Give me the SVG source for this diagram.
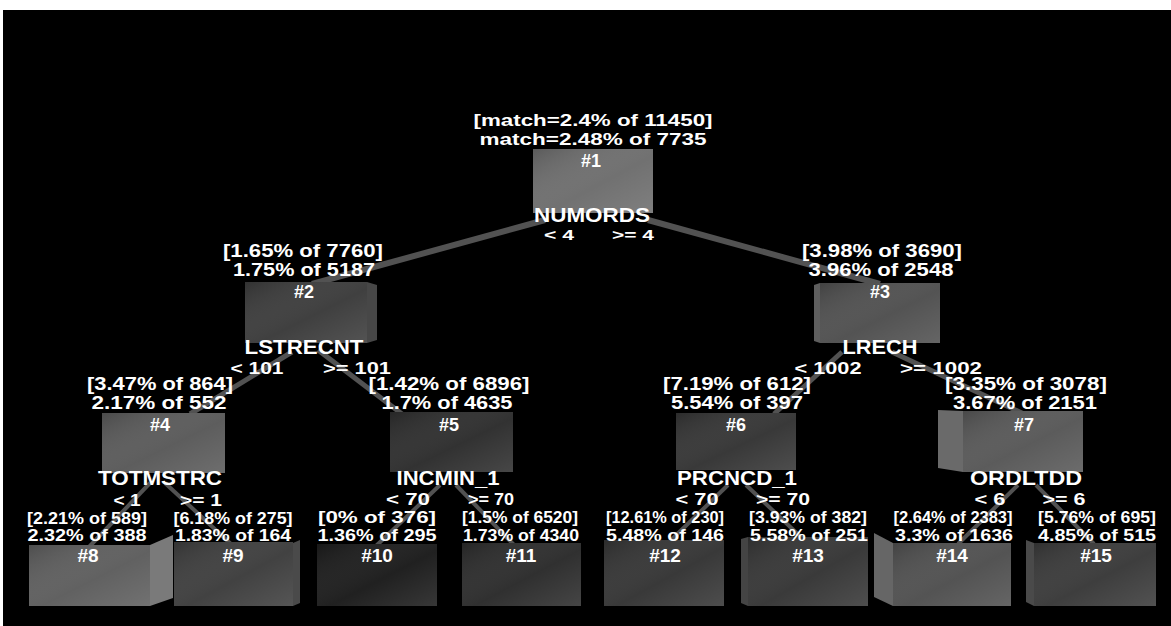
<svg xmlns="http://www.w3.org/2000/svg" width="1171" height="626" viewBox="0 0 1171 626">
  <defs>
    <linearGradient id="shade" x1="0" y1="0" x2="1" y2="1">
      <stop offset="0" stop-color="#000" stop-opacity="0.18"/>
      <stop offset="0.55" stop-color="#fff" stop-opacity="0.02"/>
      <stop offset="1" stop-color="#fff" stop-opacity="0.12"/>
    </linearGradient>
    <style>
      text { font-family: "Liberation Sans", Arial, sans-serif; font-weight: bold; fill: #fff; text-anchor: middle; }
      .big { font-size: 17px; }
      .name { font-size: 20px; }
      .mid { font-size: 18px; }
      .small { font-size: 16px; }
      .num { font-size: 19px; }
      .s1 { font-size: 14px; }
      .s2 { font-size: 16px; }
      .s3 { font-size: 16px; }
      .edge { stroke: #525252; stroke-linecap: butt; fill: none; }
      .e1 { stroke-width: 6; }
      .e2 { stroke-width: 5; }
      .e3 { stroke-width: 4; }
      .sh { fill: url(#shade); }
    </style>
  </defs>

  <!-- canvas -->
  <rect x="0" y="0" width="1171" height="626" fill="#fff"/>
  <rect x="3" y="10" width="1168" height="616" fill="#000"/>

  <!-- connectors between parent and child nodes -->
  <g id="connectors">
    <line class="edge e1" x1="545" y1="220" x2="312" y2="284"/>
    <line class="edge e1" x1="648" y1="220" x2="880" y2="284"/>
    <line class="edge e2" x1="292" y1="352" x2="190" y2="414"/>
    <line class="edge e2" x1="318" y1="350" x2="402" y2="414"/>
    <line class="edge e2" x1="842" y1="352" x2="774" y2="414"/>
    <line class="edge e2" x1="892" y1="352" x2="1024" y2="414"/>
    <line class="edge e3" x1="150" y1="483" x2="88" y2="548"/>
    <line class="edge e3" x1="165" y1="483" x2="232" y2="545"/>
    <line class="edge e3" x1="440" y1="485" x2="376" y2="546"/>
    <line class="edge e3" x1="456" y1="485" x2="514" y2="545"/>
    <line class="edge e3" x1="728" y1="485" x2="668" y2="543"/>
    <line class="edge e3" x1="746" y1="485" x2="804" y2="540"/>
    <line class="edge e3" x1="1018" y1="485" x2="958" y2="544"/>
    <line class="edge e3" x1="1036" y1="485" x2="1094" y2="544"/>
  </g>

  <g id="node-1">
    <rect x="533" y="149" width="120" height="64" fill="#6e6e6e"/>
    <rect x="533" y="149" width="120" height="64" class="sh"/>
    <text class="big" x="593" y="126" textLength="239" lengthAdjust="spacingAndGlyphs">[match=2.4% of 11450]</text>
    <text class="big" x="593" y="145" textLength="227" lengthAdjust="spacingAndGlyphs">match=2.48% of 7735</text>
    <text class="mid" x="591" y="167">#1</text>
    <text class="name" x="592" y="222" textLength="116" lengthAdjust="spacingAndGlyphs">NUMORDS</text>
    <text class="s1" x="559" y="240" textLength="30" lengthAdjust="spacingAndGlyphs">&lt; 4</text>
    <text class="s1" x="633" y="240" textLength="42" lengthAdjust="spacingAndGlyphs">&gt;= 4</text>
  </g>

  <g id="node-2">
    <polygon points="367,282 377,285 377,340 367,343" fill="#474747"/>
    <rect x="245" y="282" width="122" height="61" fill="#3c3c3c"/>
    <rect x="245" y="282" width="122" height="61" class="sh"/>
    <text class="mid" x="303" y="257" textLength="160" lengthAdjust="spacingAndGlyphs">[1.65% of 7760]</text>
    <text class="mid" x="304" y="276" textLength="142" lengthAdjust="spacingAndGlyphs">1.75% of 5187</text>
    <text class="mid" x="304" y="298">#2</text>
    <text class="name" x="304" y="354" textLength="119" lengthAdjust="spacingAndGlyphs">LSTRECNT</text>
    <text class="s2" x="257" y="374" textLength="53" lengthAdjust="spacingAndGlyphs">&lt; 101</text>
    <text class="s2" x="357" y="374" textLength="68" lengthAdjust="spacingAndGlyphs">&gt;= 101</text>
  </g>

  <g id="node-3">
    <polygon points="814,285 820,283 820,343 814,341" fill="#5e5e5e"/>
    <rect x="820" y="283" width="120" height="60" fill="#505050"/>
    <rect x="820" y="283" width="120" height="60" class="sh"/>
    <text class="mid" x="882" y="257" textLength="160" lengthAdjust="spacingAndGlyphs">[3.98% of 3690]</text>
    <text class="mid" x="881" y="276" textLength="145" lengthAdjust="spacingAndGlyphs">3.96% of 2548</text>
    <text class="mid" x="880" y="298">#3</text>
    <text class="name" x="880" y="354" textLength="75" lengthAdjust="spacingAndGlyphs">LRECH</text>
    <text class="s2" x="828" y="374" textLength="67" lengthAdjust="spacingAndGlyphs">&lt; 1002</text>
    <text class="s2" x="941" y="374" textLength="82" lengthAdjust="spacingAndGlyphs">&gt;= 1002</text>
  </g>

  <g id="node-4">
    <rect x="102" y="413" width="123" height="60" fill="#5a5a5a"/>
    <rect x="102" y="413" width="123" height="60" class="sh"/>
    <text class="mid" x="160" y="390" textLength="146" lengthAdjust="spacingAndGlyphs">[3.47% of 864]</text>
    <text class="mid" x="159" y="409" textLength="135" lengthAdjust="spacingAndGlyphs">2.17% of 552</text>
    <text class="mid" x="160" y="431">#4</text>
    <text class="name" x="160" y="485" textLength="124" lengthAdjust="spacingAndGlyphs">TOTMSTRC</text>
    <text class="s3" x="127" y="506" textLength="27" lengthAdjust="spacingAndGlyphs">&lt; 1</text>
    <text class="s3" x="201" y="506" textLength="42" lengthAdjust="spacingAndGlyphs">&gt;= 1</text>
  </g>

  <g id="node-5">
    <rect x="390" y="412" width="123" height="60" fill="#2e2e2e"/>
    <rect x="390" y="412" width="123" height="60" class="sh"/>
    <text class="mid" x="449" y="390" textLength="161" lengthAdjust="spacingAndGlyphs">[1.42% of 6896]</text>
    <text class="mid" x="447" y="409" textLength="131" lengthAdjust="spacingAndGlyphs">1.7% of 4635</text>
    <text class="mid" x="449" y="431">#5</text>
    <text class="name" x="448" y="485" textLength="103" lengthAdjust="spacingAndGlyphs">INCMIN_1</text>
    <text class="s3" x="408" y="505" textLength="44" lengthAdjust="spacingAndGlyphs">&lt; 70</text>
    <text class="s3" x="491" y="505" textLength="46" lengthAdjust="spacingAndGlyphs">&gt;= 70</text>
  </g>

  <g id="node-6">
    <rect x="676" y="413" width="120" height="57" fill="#353535"/>
    <rect x="676" y="413" width="120" height="57" class="sh"/>
    <text class="mid" x="737" y="390" textLength="148" lengthAdjust="spacingAndGlyphs">[7.19% of 612]</text>
    <text class="mid" x="737" y="409" textLength="132" lengthAdjust="spacingAndGlyphs">5.54% of 397</text>
    <text class="mid" x="736" y="431">#6</text>
    <text class="name" x="737" y="485" textLength="120" lengthAdjust="spacingAndGlyphs">PRCNCD_1</text>
    <text class="s3" x="697" y="505" textLength="43" lengthAdjust="spacingAndGlyphs">&lt; 70</text>
    <text class="s3" x="783" y="505" textLength="54" lengthAdjust="spacingAndGlyphs">&gt;= 70</text>
  </g>

  <g id="node-7">
    <polygon points="938,410 963,411 963,472 938,468" fill="#6a6a6a"/>
    <rect x="963" y="411" width="120" height="61" fill="#585858"/>
    <rect x="963" y="411" width="120" height="61" class="sh"/>
    <text class="mid" x="1026" y="390" textLength="162" lengthAdjust="spacingAndGlyphs">[3.35% of 3078]</text>
    <text class="mid" x="1025" y="409" textLength="144" lengthAdjust="spacingAndGlyphs">3.67% of 2151</text>
    <text class="mid" x="1024" y="431">#7</text>
    <text class="name" x="1026" y="485" textLength="112" lengthAdjust="spacingAndGlyphs">ORDLTDD</text>
    <text class="s3" x="990" y="505" textLength="31" lengthAdjust="spacingAndGlyphs">&lt; 6</text>
    <text class="s3" x="1064" y="505" textLength="43" lengthAdjust="spacingAndGlyphs">&gt;= 6</text>
  </g>

  <g id="node-8">
    <polygon points="150,545 173,535 173,598 150,606" fill="#7a7a7a"/>
    <rect x="29" y="545" width="121" height="61" fill="#5e5e5e"/>
    <rect x="29" y="545" width="121" height="61" class="sh"/>
    <text class="small" x="87" y="524" textLength="120" lengthAdjust="spacingAndGlyphs">[2.21% of 589]</text>
    <text class="small" x="87" y="541" textLength="119" lengthAdjust="spacingAndGlyphs">2.32% of 388</text>
    <text class="num" x="88" y="562">#8</text>
  </g>

  <g id="node-9">
    <polygon points="293,543 300,540 300,603 293,606" fill="#4a4a4a"/>
    <rect x="174" y="542" width="119" height="64" fill="#3e3e3e"/>
    <rect x="174" y="542" width="119" height="64" class="sh"/>
    <text class="small" x="233" y="524" textLength="119" lengthAdjust="spacingAndGlyphs">[6.18% of 275]</text>
    <text class="small" x="233" y="541" textLength="116" lengthAdjust="spacingAndGlyphs">1.83% of 164</text>
    <text class="num" x="233" y="562">#9</text>
  </g>

  <g id="node-10">
    <rect x="317" y="544" width="120" height="62" fill="#1c1c1c"/>
    <rect x="317" y="544" width="120" height="62" class="sh"/>
    <text class="small" x="377" y="523" textLength="118" lengthAdjust="spacingAndGlyphs">[0% of 376]</text>
    <text class="small" x="377" y="541" textLength="119" lengthAdjust="spacingAndGlyphs">1.36% of 295</text>
    <text class="num" x="377" y="562">#10</text>
  </g>

  <g id="node-11">
    <rect x="462" y="543" width="119" height="63" fill="#2c2c2c"/>
    <rect x="462" y="543" width="119" height="63" class="sh"/>
    <text class="small" x="520" y="523" textLength="116" lengthAdjust="spacingAndGlyphs">[1.5% of 6520]</text>
    <text class="small" x="521" y="541" textLength="116" lengthAdjust="spacingAndGlyphs">1.73% of 4340</text>
    <text class="num" x="521" y="562">#11</text>
  </g>

  <g id="node-12">
    <rect x="604" y="540" width="120" height="66" fill="#353535"/>
    <rect x="604" y="540" width="120" height="66" class="sh"/>
    <text class="small" x="665" y="523" textLength="118" lengthAdjust="spacingAndGlyphs">[12.61% of 230]</text>
    <text class="small" x="665" y="541" textLength="118" lengthAdjust="spacingAndGlyphs">5.48% of 146</text>
    <text class="num" x="665" y="562">#12</text>
  </g>

  <g id="node-13">
    <polygon points="741,539 748,537 748,606 741,603" fill="#444"/>
    <rect x="748" y="537" width="120" height="69" fill="#363636"/>
    <rect x="748" y="537" width="120" height="69" class="sh"/>
    <text class="small" x="808" y="523" textLength="118" lengthAdjust="spacingAndGlyphs">[3.93% of 382]</text>
    <text class="small" x="809" y="541" textLength="118" lengthAdjust="spacingAndGlyphs">5.58% of 251</text>
    <text class="num" x="808" y="562">#13</text>
  </g>

  <g id="node-14">
    <polygon points="874,533 893,543 893,606 874,597" fill="#666"/>
    <rect x="893" y="543" width="118" height="63" fill="#505050"/>
    <rect x="893" y="543" width="118" height="63" class="sh"/>
    <text class="small" x="953" y="523" textLength="119" lengthAdjust="spacingAndGlyphs">[2.64% of 2383]</text>
    <text class="small" x="954" y="541" textLength="118" lengthAdjust="spacingAndGlyphs">3.3% of 1636</text>
    <text class="num" x="952" y="562">#14</text>
  </g>

  <g id="node-15">
    <polygon points="1026,540 1034,543 1034,606 1026,602" fill="#4a4a4a"/>
    <rect x="1034" y="543" width="122" height="63" fill="#3a3a3a"/>
    <rect x="1034" y="543" width="122" height="63" class="sh"/>
    <text class="small" x="1097" y="523" textLength="118" lengthAdjust="spacingAndGlyphs">[5.76% of 695]</text>
    <text class="small" x="1097" y="541" textLength="118" lengthAdjust="spacingAndGlyphs">4.85% of 515</text>
    <text class="num" x="1096" y="562">#15</text>
  </g>
</svg>
